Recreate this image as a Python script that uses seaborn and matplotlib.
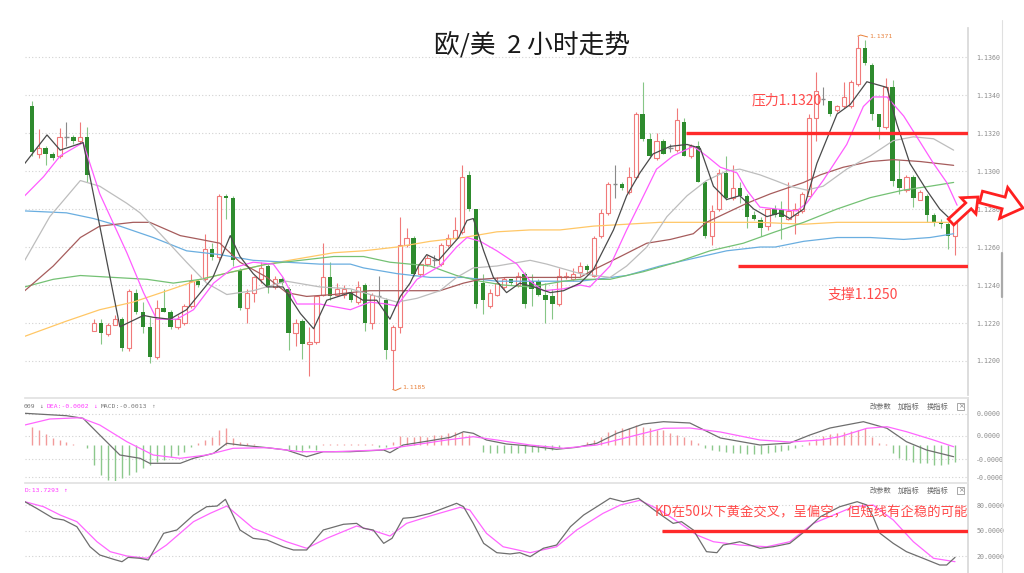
import numpy as np
import pandas as pd
import matplotlib
matplotlib.use("Agg")
import matplotlib.pyplot as plt
import seaborn as sns
from matplotlib.patches import FancyArrow, Rectangle
from matplotlib.lines import Line2D
from matplotlib.transforms import IdentityTransform

# EUR/USD 2h bars (bar 0 = leftmost visible)
opens = [1.1334, 1.1309, 1.1312, 1.1309, 1.1308, 1.1318, 1.1318, 1.1316, 1.1318, 1.1216,
         1.1220, 1.1214, 1.1219, 1.1222, 1.1207, 1.1236, 1.1226, 1.1218, 1.1202, 1.1228,
         1.1226, 1.1218, 1.1220, 1.1229, 1.1242, 1.1243, 1.1259, 1.1255, 1.1287, 1.1286,
         1.1248, 1.1228, 1.1236, 1.1243, 1.1250, 1.1239, 1.1243, 1.1238, 1.1215, 1.1221,
         1.1209, 1.1210, 1.1235, 1.1244, 1.1235, 1.1235, 1.1236, 1.1231, 1.1240, 1.1220,
         1.1234, 1.1232, 1.1206, 1.1218, 1.1261, 1.1265, 1.1246, 1.1251, 1.1253, 1.1251,
         1.1261, 1.1265, 1.1268, 1.1298, 1.1280, 1.1241, 1.1229, 1.1235, 1.1239, 1.1243,
         1.1240, 1.1246, 1.1242, 1.1242, 1.1235, 1.1234, 1.1230, 1.1244, 1.1243, 1.1247,
         1.1250, 1.1245, 1.1266, 1.1278, 1.1293, 1.1293, 1.1289, 1.1297, 1.1330, 1.1317,
         1.1307, 1.1316, 1.1312, 1.1311, 1.1326, 1.1308, 1.1313, 1.1294, 1.1266, 1.1280,
         1.1299, 1.1286, 1.1291, 1.1287, 1.1277, 1.1274, 1.1271, 1.1280, 1.1280, 1.1275,
         1.1277, 1.1279, 1.1287, 1.1328, 1.1338, 1.1337, 1.1332, 1.1334, 1.1334, 1.1346,
         1.1365, 1.1356, 1.1330, 1.1323, 1.1344, 1.1296, 1.1290, 1.1297, 1.1285, 1.1287,
         1.1277, 1.1273, 1.1272, 1.1266]
highs = [1.1337, 1.1322, 1.1313, 1.1310, 1.13225, 1.1326, 1.1319, 1.1326, 1.1323, 1.1222,
         1.1222, 1.1220, 1.1224, 1.1223, 1.1238, 1.1238, 1.1231, 1.1223, 1.1232, 1.1238,
         1.1227, 1.1224, 1.1230, 1.1246, 1.1243, 1.1267, 1.1262, 1.1288, 1.1288, 1.1287,
         1.1249, 1.1238, 1.1245, 1.1252, 1.1251, 1.1245, 1.1244, 1.1239, 1.1222, 1.1222,
         1.1218, 1.1234, 1.1262, 1.1252, 1.1241, 1.1240, 1.1238, 1.1242, 1.1241, 1.1236,
         1.1245, 1.1233, 1.1219, 1.1276, 1.1270, 1.1266, 1.1252, 1.1256, 1.1256, 1.1262,
         1.1267, 1.1276, 1.1303, 1.1300, 1.1280, 1.1246, 1.1238, 1.1244, 1.1244, 1.1243,
         1.1247, 1.1247, 1.1246, 1.1243, 1.1241, 1.1238, 1.1249, 1.1247, 1.1249, 1.1252,
         1.1251, 1.1266, 1.1280, 1.1294, 1.1303, 1.1294, 1.1302, 1.1331, 1.1347, 1.1320,
         1.1320, 1.1317, 1.1314, 1.1333, 1.1328, 1.1314, 1.1316, 1.1295, 1.1282, 1.1301,
         1.1308, 1.1303, 1.1294, 1.1288, 1.1279, 1.1276, 1.1280, 1.1282, 1.1284, 1.1294,
         1.1283, 1.1289, 1.1330, 1.1352, 1.1344, 1.1337, 1.1335, 1.1347, 1.1348, 1.1371,
         1.1369, 1.1357, 1.1330, 1.1349, 1.1348, 1.1306, 1.1298, 1.1298, 1.1290, 1.1288,
         1.1278, 1.1275, 1.1273, 1.1273]
lows = [1.1308, 1.1307, 1.1303, 1.1306, 1.1307, 1.1313, 1.1314, 1.1314, 1.1294, 1.1216,
        1.1209, 1.1213, 1.1219, 1.1205, 1.1205, 1.1225, 1.1215, 1.1199, 1.1201, 1.1226,
        1.1217, 1.1217, 1.1219, 1.1228, 1.1239, 1.1242, 1.1253, 1.1253, 1.1275, 1.1250,
        1.1227, 1.1220, 1.1231, 1.1241, 1.1236, 1.1238, 1.1240, 1.1206, 1.1208, 1.1201,
        1.1192, 1.1209, 1.1234, 1.1232, 1.1234, 1.1233, 1.1231, 1.1230, 1.1216, 1.1217,
        1.1230, 1.1201, 1.1185, 1.1215, 1.1260, 1.1245, 1.1245, 1.1250, 1.1250, 1.1250,
        1.1260, 1.1264, 1.1267, 1.1279, 1.1228, 1.1225, 1.1228, 1.1234, 1.1238, 1.1240,
        1.1239, 1.1228, 1.1229, 1.1234, 1.1220, 1.1222, 1.1229, 1.1243, 1.1242, 1.1245,
        1.1246, 1.1244, 1.1265, 1.1277, 1.1286, 1.1290, 1.1288, 1.1296, 1.1316, 1.1307,
        1.1306, 1.1309, 1.1310, 1.1310, 1.1308, 1.1307, 1.1294, 1.1265, 1.1261, 1.1279,
        1.1285, 1.1285, 1.1283, 1.1270, 1.1274, 1.1266, 1.1269, 1.1276, 1.1264, 1.1274,
        1.1267, 1.1278, 1.1287, 1.1316, 1.1335, 1.1329, 1.1331, 1.1333, 1.1333, 1.1345,
        1.1356, 1.1327, 1.1317, 1.1322, 1.1292, 1.1288, 1.1289, 1.1281, 1.1285, 1.1273,
        1.1271, 1.1270, 1.1259, 1.1256]
closes = [1.1310, 1.1312, 1.1309, 1.1307, 1.1318, 1.1318, 1.1316, 1.1318, 1.1298, 1.1220,
          1.1215, 1.1219, 1.1222, 1.1207, 1.1237, 1.1226, 1.1218, 1.1202, 1.1228, 1.1226,
          1.1218, 1.1222, 1.1229, 1.1242, 1.1240, 1.1259, 1.1255, 1.1287, 1.1286, 1.1253,
          1.1228, 1.1236, 1.1244, 1.1249, 1.1239, 1.1243, 1.1241, 1.1215, 1.1220, 1.1209,
          1.1210, 1.1234, 1.1244, 1.1234, 1.1238, 1.1238, 1.1232, 1.1239, 1.1220, 1.1235,
          1.1234, 1.1206, 1.1218, 1.1261, 1.1265, 1.1246, 1.1251, 1.1254, 1.1253, 1.1261,
          1.1265, 1.1269, 1.1297, 1.1280, 1.1230, 1.1232, 1.1236, 1.1241, 1.1243, 1.1241,
          1.1245, 1.1230, 1.1238, 1.1235, 1.1232, 1.1230, 1.1245, 1.1245, 1.1246, 1.1250,
          1.1248, 1.1265, 1.1278, 1.1293, 1.1293, 1.1291, 1.1297, 1.1330, 1.1317, 1.1308,
          1.1316, 1.1309, 1.1312, 1.1327, 1.1308, 1.1313, 1.1294, 1.1266, 1.1279, 1.1299,
          1.1286, 1.1291, 1.1287, 1.1276, 1.1275, 1.1270, 1.1280, 1.1277, 1.1276, 1.1279,
          1.1280, 1.1288, 1.1328, 1.1342, 1.1338, 1.1330, 1.1334, 1.1339, 1.1347, 1.1365,
          1.1357, 1.1330, 1.1323, 1.1344, 1.1295, 1.1291, 1.1297, 1.1286, 1.1289, 1.1277,
          1.1273, 1.1272, 1.1266, 1.1273]

# moving averages as (bar index, price)
ma5 = [(-1.0, 1.1304), (2.2, 1.1319), (4.1, 1.1311), (7.4, 1.1315), (12.7, 1.1218), (16.1, 1.1224),
       (17.5, 1.1223), (19.9, 1.1222), (22.3, 1.1227), (26.1, 1.1244), (28.6, 1.1266), (30.0, 1.1255),
       (31.9, 1.1246), (33.9, 1.1239), (36.2, 1.1239), (38.7, 1.1225), (40.6, 1.1217), (42.5, 1.1232),
       (45.9, 1.1236), (47.7, 1.1232), (49.7, 1.1232), (51.6, 1.1222), (53.1, 1.1234), (54.5, 1.1241),
       (55.7, 1.1250), (56.9, 1.1256), (58.6, 1.1253), (59.8, 1.1258), (61.5, 1.1265), (62.7, 1.1274),
       (63.6, 1.1275), (65.1, 1.1258), (66.5, 1.1244), (68.4, 1.1236), (70.3, 1.1241), (72.3, 1.1239),
       (74.7, 1.1236), (76.6, 1.1237), (79.0, 1.1241), (80.9, 1.1248), (83.8, 1.1269), (85.7, 1.1287),
       (87.6, 1.1299), (89.5, 1.1309), (92.0, 1.1313), (94.4, 1.1314), (96.3, 1.1312), (98.2, 1.1292),
       (100.1, 1.1285), (102.0, 1.1287), (104.0, 1.1280), (105.9, 1.1276), (107.8, 1.1278),
       (109.2, 1.1275), (111.2, 1.1280), (113.1, 1.1304), (116.0, 1.1330), (117.9, 1.1335),
       (120.3, 1.1347), (123.2, 1.1344), (124.6, 1.1325), (126.5, 1.1304), (128.9, 1.1290),
       (130.8, 1.1280), (132.8, 1.1273)]
ma10 = [(-1.0, 1.1287), (1.7, 1.1297), (4.1, 1.1308), (7.4, 1.1315), (9.8, 1.1288), (13.7, 1.1257),
        (16.1, 1.1236), (18.0, 1.1222), (20.9, 1.1222), (23.3, 1.1227), (26.2, 1.1241), (29.0, 1.1249),
        (31.9, 1.1252), (34.8, 1.1251), (36.2, 1.1244), (38.2, 1.1230), (41.5, 1.1230), (45.9, 1.1227),
        (48.7, 1.1231), (51.1, 1.1230), (52.6, 1.1229), (55.5, 1.1243), (58.8, 1.1250), (61.2, 1.1260),
        (62.7, 1.1265), (64.6, 1.1263), (67.0, 1.1258), (69.9, 1.1251), (71.8, 1.1242), (73.7, 1.1237),
        (76.6, 1.1238), (79.0, 1.1240), (80.4, 1.1239), (83.3, 1.1250), (85.7, 1.1269), (87.6, 1.1283),
        (90.0, 1.1301), (92.4, 1.1308), (95.3, 1.1313), (97.2, 1.1308), (99.2, 1.1302), (101.6, 1.1299),
        (103.0, 1.1290), (104.9, 1.1281), (107.3, 1.1280), (110.2, 1.1279), (111.6, 1.1283),
        (114.0, 1.1295), (117.4, 1.1314), (119.8, 1.1334), (121.2, 1.1339), (123.2, 1.1339),
        (125.6, 1.1329), (127.5, 1.1318), (129.9, 1.1304), (131.8, 1.1294), (133.3, 1.1282)]
ma20 = [(-1.0, 1.1253), (2.6, 1.1276), (7.0, 1.1295), (9.8, 1.1292), (13.7, 1.1283), (15.6, 1.1278),
        (18.5, 1.1267), (22.3, 1.1252), (25.2, 1.1241), (28.1, 1.1235), (31.9, 1.1237), (36.7, 1.1242),
        (41.5, 1.1239), (45.9, 1.1238), (47.8, 1.1236), (52.6, 1.1231), (55.5, 1.1233), (58.8, 1.1237),
        (61.2, 1.1244), (63.6, 1.1249), (67.0, 1.1250), (71.8, 1.1253), (74.2, 1.1251), (79.0, 1.1246),
        (83.3, 1.1244), (85.7, 1.1250), (88.6, 1.1260), (91.5, 1.1276), (94.4, 1.1287), (97.2, 1.1295),
        (100.1, 1.1300), (102.0, 1.1301), (104.9, 1.1298), (107.1, 1.1295), (109.2, 1.1292),
        (111.6, 1.1290), (114.0, 1.1292), (117.4, 1.1301), (120.8, 1.1308), (124.1, 1.1316),
        (127.0, 1.1318), (129.9, 1.1317), (132.8, 1.1311)]
ma_brown = [(-1.0, 1.1237), (3.1, 1.1250), (7.0, 1.1265), (9.8, 1.1271), (14.6, 1.1273), (17.0, 1.1273),
            (21.4, 1.1266), (24.3, 1.1264), (27.1, 1.1262), (30.0, 1.1252), (33.9, 1.1244), (36.7, 1.1236),
            (39.6, 1.1234), (43.5, 1.1235), (45.9, 1.1236), (48.7, 1.1237), (52.6, 1.1237), (58.8, 1.1237),
            (62.2, 1.1241), (64.6, 1.1243), (68.4, 1.1244), (71.8, 1.1244), (79.0, 1.1244), (80.9, 1.1248),
            (84.8, 1.1255), (88.6, 1.1262), (92.0, 1.1264), (95.3, 1.1267), (97.2, 1.1273), (100.1, 1.1278),
            (103.0, 1.1283), (106.4, 1.1288), (111.2, 1.1294), (113.6, 1.1298), (116.9, 1.1302),
            (120.8, 1.1305), (124.1, 1.1306), (128.0, 1.1305), (132.8, 1.1303)]
ma_green = [(-1.0, 1.1239), (3.1, 1.1243), (7.0, 1.1245), (11.8, 1.1244), (16.6, 1.1243), (20.4, 1.1241),
            (24.3, 1.1243), (29.0, 1.1247), (33.9, 1.1251), (38.7, 1.1253), (43.5, 1.1255), (47.8, 1.1255),
            (51.6, 1.1252), (57.4, 1.1250), (61.2, 1.1245), (64.6, 1.1242), (67.9, 1.1240), (71.8, 1.1239),
            (76.6, 1.1242), (79.0, 1.1243), (83.3, 1.1243), (88.1, 1.1247), (92.9, 1.1252), (97.7, 1.1258),
            (102.5, 1.1262), (107.1, 1.1268), (111.2, 1.1273), (116.0, 1.1280), (120.8, 1.1286),
            (125.6, 1.1290), (129.4, 1.1292), (132.8, 1.1294)]
ma_blue = [(-1.0, 1.1279), (5.0, 1.1278), (8.9, 1.1275), (12.7, 1.1271), (17.5, 1.1265), (22.3, 1.1258),
           (27.1, 1.1256), (31.9, 1.1253), (36.7, 1.1252), (41.5, 1.1251), (45.9, 1.1251), (47.8, 1.1249),
           (52.6, 1.1246), (57.4, 1.1244), (62.2, 1.1244), (67.0, 1.1242), (71.8, 1.1242), (79.0, 1.1242),
           (85.7, 1.1245), (90.5, 1.1250), (95.3, 1.1254), (100.1, 1.1258), (104.9, 1.1260), (107.1, 1.1260),
           (111.2, 1.1263), (116.0, 1.1265), (120.8, 1.1265), (125.6, 1.1264), (129.4, 1.1265),
           (132.8, 1.1267)]
ma_orange = [(-1.0, 1.1213), (5.0, 1.1221), (9.8, 1.1227), (14.6, 1.1231), (19.5, 1.1237), (24.3, 1.1243),
             (29.0, 1.1247), (33.9, 1.1251), (38.7, 1.1254), (43.5, 1.1257), (47.8, 1.1258), (52.6, 1.1260),
             (57.4, 1.1263), (62.2, 1.1265), (67.0, 1.1268), (71.8, 1.1269), (76.1, 1.1269), (80.9, 1.1271),
             (85.7, 1.1272), (90.5, 1.1273), (95.3, 1.1273), (100.1, 1.1273), (104.9, 1.1273),
             (111.2, 1.1272), (116.0, 1.1273), (120.8, 1.1273), (125.6, 1.1273), (129.4, 1.1273),
             (132.8, 1.1273)]

# MACD panel, values in 1e-4
macd_hist = [1.8, 1.5, 1.1, 0.7, 0.5, 0.3, 0.1, 0.0, -0.3, -2.0,
             -3.0, -3.5, -3.6, -3.3, -3.0, -2.7, -2.3, -2.0, -1.7, -1.5,
             -1.2, -1.0, -0.7, -0.2, 0.2, 0.5, 0.8, 1.5, 1.7, 0.7,
             0.3, 0.2, 0.1, 0.05, 0.05, 0.0, 0.0, -0.5, -0.5, -0.7,
             -0.3, -0.5, 0.1, 0.1, 0.07, 0.07, 0.07, 0.07, 0.07, 0.07,
             -0.15, -0.15, 0.3, 0.9, 0.8, 0.8, 0.9, 0.8, 1.0, 1.0,
             1.2, 1.3, 1.3, 1.0, 0.0, -0.7, -0.8, -0.8, -0.8, -0.8,
             -0.8, -0.8, -0.7, -0.7, -0.5, -0.5, -0.3, 0.0, 0.0, 0.05,
             0.3, 0.5, 0.8, 1.3, 1.5, 1.7, 1.7, 2.0, 1.8, 1.7,
             1.5, 1.5, 1.2, 1.0, 0.8, 0.5, 0.2, -0.3, -0.5, -0.6,
             -0.7, -0.8, -0.8, -0.9, -0.9, -0.9, -0.8, -0.7, -0.6, -0.5,
             -0.3, -0.1, 0.3, 0.6, 0.9, 1.1, 1.2, 1.3, 1.4, 1.5,
             1.7, 0.8, 0.2, 0.1, -0.8, -1.3, -1.5, -1.7, -1.8, -1.8,
             -2.0, -2.0, -1.9, -1.7]
dif = [(-1.0, 3.17), (5.0, 2.93), (7.4, 2.67), (9.8, 1.0), (12.7, -1.0), (15.6, -1.33), (17.0, -1.83),
       (21.4, -1.83), (23.3, -1.33), (26.2, -0.83), (28.1, 0.17), (30.0, 0.0), (33.9, -0.27), (36.7, -0.5),
       (39.6, -1.17), (42.0, -0.67), (45.9, -0.67), (50.7, -0.5), (51.6, -0.77), (53.5, 0.0), (57.4, 0.43),
       (60.3, 0.77), (62.2, 1.33), (63.6, 1.17), (65.5, 0.5), (68.4, 0.1), (71.8, -0.1), (75.6, -0.43),
       (78.5, -0.23), (81.4, 0.17), (84.3, 1.17), (88.1, 2.1), (91.0, 2.33), (94.8, 2.2), (99.2, 0.7),
       (104.9, 0.0), (109.2, 0.2), (112.1, 1.0), (115.0, 1.7), (119.8, 2.33), (123.2, 1.67), (126.0, 0.33),
       (128.9, -0.5), (132.8, -1.17)]
dea = [(-1.0, 2.0), (2.6, 2.6), (7.0, 2.73), (9.8, 2.0), (13.7, 0.33), (17.5, -1.0), (21.4, -1.33),
       (25.2, -1.0), (29.0, -0.33), (33.9, -0.27), (38.7, -0.67), (43.5, -0.67), (50.2, -0.5), (55.0, 0.0),
       (59.8, 0.5), (63.6, 0.83), (67.0, 0.5), (71.8, 0.0), (76.6, -0.33), (81.4, 0.0), (86.2, 0.83),
       (91.0, 1.67), (94.8, 1.7), (99.2, 1.3), (104.9, 0.5), (109.2, 0.3), (113.6, 0.5), (116.4, 0.83),
       (120.3, 1.67), (123.2, 1.83), (126.0, 1.33), (129.9, 0.5), (132.8, -0.17)]

# KD panel
kd_k = [(-1.0, 83.9), (0.7, 76.1), (3.1, 64.4), (4.6, 62.4), (6.5, 54.5), (8.4, 30.9), (9.8, 21.2),
        (11.8, 16.1), (13.0, 13.3), (13.9, 18.4), (15.6, 17.3), (16.8, 15.3), (19.0, 46.7), (20.9, 50.6),
        (23.3, 68.2), (25.2, 78.0), (26.7, 78.8), (27.9, 86.7), (30.0, 50.6), (31.9, 40.8), (33.9, 38.8),
        (36.2, 30.9), (37.7, 27.1), (39.6, 27.1), (42.0, 50.6), (44.9, 57.3), (46.8, 58.4), (47.8, 52.6),
        (49.2, 50.6), (50.7, 34.9), (51.9, 40.8), (53.5, 64.4), (55.0, 65.5), (57.4, 70.2), (59.3, 76.1),
        (61.2, 82.0), (62.2, 78.0), (63.6, 58.4), (65.1, 34.9), (67.0, 23.9), (68.9, 22.4), (70.3, 23.9),
        (71.8, 19.2), (73.7, 29.1), (75.6, 32.9), (77.6, 54.5), (79.5, 68.2), (81.4, 78.0), (83.3, 87.9),
        (85.2, 83.9), (87.4, 87.9), (90.0, 72.1), (92.4, 58.4), (93.6, 60.4), (95.3, 50.6), (97.2, 25.1),
        (98.7, 23.9), (99.6, 32.9), (102.0, 36.8), (104.9, 29.1), (106.8, 30.9), (109.2, 34.9),
        (111.6, 50.6), (113.6, 66.2), (116.4, 78.0), (118.9, 83.9), (120.3, 80.0), (121.2, 66.2),
        (122.2, 46.7), (124.1, 34.9), (126.0, 25.1), (128.4, 17.3), (130.8, 9.4), (131.8, 9.4),
        (133.0, 18.4)]
kd_d = [(-1.0, 83.9), (1.7, 78.0), (4.1, 68.2), (6.5, 60.4), (9.4, 36.8), (11.3, 25.1), (13.7, 20.0),
        (16.6, 17.3), (19.4, 32.9), (23.3, 60.4), (25.7, 70.2), (28.1, 78.8), (31.9, 52.6), (36.7, 36.8),
        (39.6, 29.1), (42.5, 40.8), (46.8, 55.3), (49.7, 48.6), (51.6, 43.5), (54.0, 58.4), (57.4, 67.1),
        (61.7, 77.3), (63.1, 74.1), (65.5, 46.7), (67.9, 30.9), (71.8, 23.9), (75.6, 30.9), (78.5, 50.6),
        (82.3, 70.2), (84.8, 80.0), (87.6, 85.5), (90.5, 74.1), (93.4, 58.4), (95.8, 44.7), (98.2, 36.8),
        (102.0, 32.9), (105.9, 30.9), (109.2, 36.8), (112.6, 58.4), (115.5, 68.2), (118.4, 78.0),
        (121.2, 80.0), (124.1, 62.4), (127.0, 36.8), (129.9, 17.3), (133.0, 13.3)]

resistance = 1.1320
support = 1.1250
price_ticks = [1.1200, 1.1220, 1.1240, 1.1260, 1.1280, 1.1300, 1.1320, 1.1340, 1.1360]

sns.set_theme(style="white")
plt.rcParams['font.family'] = ['Noto Sans CJK SC', 'DejaVu Sans']
MONO = "DejaVu Sans Mono"

W, H = 1024, 573
fig = plt.figure(figsize=(W / 100, H / 100), dpi=100)


def add_ax(x0, y0, x1, y1):
    # pixel box, origin top-left like the screenshot
    return fig.add_axes([x0 / W, 1 - y1 / H, (x1 - x0) / W, (y1 - y0) / H])


def ftext(x, y, s, **kw):
    fig.text(x / W, 1 - y / H, s, **kw)


def style(a, ticks, labels):
    a.set_xlim(-0.97, 134.87)
    a.set_xticks([])
    a.yaxis.tick_right()
    a.set_yticks(ticks, labels, fontfamily=MONO)
    a.tick_params(axis="y", length=0, pad=6, labelsize=4.8, labelcolor="#8c8c8c")
    a.grid(axis="y", color="#d2d2d2", ls=(0, (1, 2)), lw=0.8)
    a.set_axisbelow(True)
    for s in ["left", "bottom"]:
        a.spines[s].set_visible(False)
    a.spines["right"].set_color("#d8d8d8")
    a.spines["top"].set_color("#e2e2e2")
    a.set_xlabel("")
    a.set_ylabel("")


ax = add_ax(25, 28, 968, 395)
ax_macd = add_ax(25, 398, 968, 481)
ax_kd = add_ax(25, 483, 968, 573)

# candles
df = pd.DataFrame({"o": opens, "h": highs, "l": lows, "c": closes})
df["i"] = np.arange(len(df))
up = df[df.c > df.o]
dn = df[df.c < df.o]
flat = df[df.c == df.o]
RED = "#f07a7a"
ax.vlines(up.i, up.l, up.h, color=RED, lw=0.8, zorder=2)
ax.bar(up.i, up.c - up.o, bottom=up.o, width=0.62, facecolor="white", edgecolor=RED, lw=0.8, zorder=3)
ax.vlines(dn.i, dn.l, dn.h, color="#86c686", lw=0.8, zorder=2)
ax.bar(dn.i, dn.o - dn.c, bottom=dn.c, width=0.62, color="#2e8b2e", lw=0, zorder=3)
ax.vlines(flat.i, flat.l, flat.h, color="#8a8a8a", lw=0.8, zorder=2)
ax.hlines(flat.o, flat.i - 0.31, flat.i + 0.31, color="#8a8a8a", lw=1.0, zorder=3)

for pts, col in [(ma_orange, "#ffc766"), (ma_blue, "#6aaee0"), (ma_green, "#74c174"),
                 (ma_brown, "#a65c5c"), (ma20, "#bdbdbd"), (ma10, "#ff5cff"), (ma5, "#4a4a4a")]:
    xs, ys = zip(*pts)
    sns.lineplot(x=list(xs), y=list(ys), ax=ax, color=col, linewidth=0.9,
                 estimator=None, sort=False, zorder=4)

ax.hlines(resistance, 94.3, 134.87, color="#ff2a2a", lw=2.4, zorder=5)
ax.hlines(support, 101.7, 134.87, color="#ff2a2a", lw=2.4, zorder=5)

# high / low marks
ax.plot([119, 119.4, 120.4], [1.1371, 1.13716, 1.13706], color="#e8803a", lw=0.7, zorder=5)
ax.text(120.6, 1.13706, "1.1371", color="#e8803a", fontsize=4.6, family=MONO, va="center")
ax.plot([52, 52.4, 53.2], [1.1185, 1.11845, 1.11858], color="#e8803a", lw=0.7, zorder=5)
ax.text(53.3, 1.11858, "1.1185", color="#e8803a", fontsize=4.6, family=MONO, va="center")

ax.set_ylim(1.11821, 1.13753)
style(ax, price_ticks, [f"{t:.4f}" for t in price_ticks])
ax.spines["top"].set_visible(False)

# MACD
hist = np.array(macd_hist)
idx = np.arange(len(hist))
ax_macd.vlines(idx[hist > 0], 0, hist[hist > 0], color="#f29a9a", lw=1.0)
ax_macd.vlines(idx[hist < 0], 0, hist[hist < 0], color="#8cc88c", lw=1.0)
for pts, col in [(dif, "#6e6e6e"), (dea, "#ff66ff")]:
    xs, ys = zip(*pts)
    sns.lineplot(x=list(xs), y=list(ys), ax=ax_macd, color=col, linewidth=0.9,
                 estimator=None, sort=False, zorder=4)
ax_macd.set_ylim(-3.6, 4.7)
style(ax_macd, [3.1, 0.9, -1.4, -3.2], ["0.0000", "0.0000", "-0.0000", "-0.0000"])

# KD
for pts, col in [(kd_d, "#ff66ff"), (kd_k, "#6e6e6e")]:
    xs, ys = zip(*pts)
    sns.lineplot(x=list(xs), y=list(ys), ax=ax_kd, color=col, linewidth=0.9,
                 estimator=None, sort=False, zorder=4)
ax_kd.hlines(49, 90.8, 134.87, color="#ff2a2a", lw=2.4, zorder=5)
ax_kd.set_ylim(0, 105.9)
style(ax_kd, [80, 50, 20], ["80.0000", "50.0000", "20.0000"])

# panel headers
hdr = dict(fontsize=4.6, family=MONO, va="center")
ftext(24, 406.5, "009", color="#777777", **hdr)
ftext(39, 406.5, "↓", color="#777777", **hdr)
ftext(47, 406.5, "DEA:-0.0002", color="#ff3cff", **hdr)
ftext(93, 406.5, "↓", color="#ff3cff", **hdr)
ftext(101, 406.5, "MACD:-0.0013", color="#777777", **hdr)
ftext(151, 406.5, "↑", color="#999999", **hdr)
ftext(25, 490.5, "D:13.7293", color="#ff3cff", **hdr)
ftext(63, 490.5, "↑", color="#ff3cff", **hdr)

for yb in (406.5, 490.5):
    for xb, s in [(870, "改参数"), (898, "加指标"), (927, "换指标")]:
        ftext(xb, yb, s, fontsize=5.2, color="#666666", va="center")
    fig.add_artist(Rectangle((957, H - yb - 3.5), 7, 7, transform=IdentityTransform(),
                             fill=False, ec="#999999", lw=0.6))
    ftext(960.5, yb, "×", fontsize=5, color="#888888", ha="center", va="center", family="DejaVu Sans")

# titles and notes
ftext(532, 45, "欧/美  2 小时走势", ha="center", va="center", fontsize=18.5, color="#1a1a1a")
ftext(752, 100, "压力1.1320", va="center", fontsize=10, color="#ff4a4a")
ftext(828, 295, "支撑1.1250", va="center", fontsize=10, color="#ff4a4a")
ftext(655, 512, "KD在50以下黄金交叉，呈偏空，但短线有企稳的可能", va="center", fontsize=9.6,
      color="#ff4a4a")

# right-hand frame line and scroll bar
fig.add_artist(Line2D([1002 / W, 1002 / W], [0, 1 - 20 / H], color="#e0e0e0", lw=0.8))
fig.add_artist(Line2D([1002 / W, 1002 / W], [1 - 253 / H, 1 - 297 / H], color="#aaaaaa", lw=1.6))

# hollow red arrows
for (x0, y0, x1, y1, w, hw, hl) in [(951, 222, 978, 197, 8, 22, 13), (981, 197, 1023, 208, 12, 32, 20)]:
    fig.add_artist(FancyArrow(x0, H - y0, x1 - x0, -(y1 - y0), width=w, head_width=hw, head_length=hl,
                              length_includes_head=True, transform=IdentityTransform(),
                              facecolor="white", edgecolor="#ff2020", lw=2.0, zorder=10))

fig.savefig("out.png", dpi=100)
